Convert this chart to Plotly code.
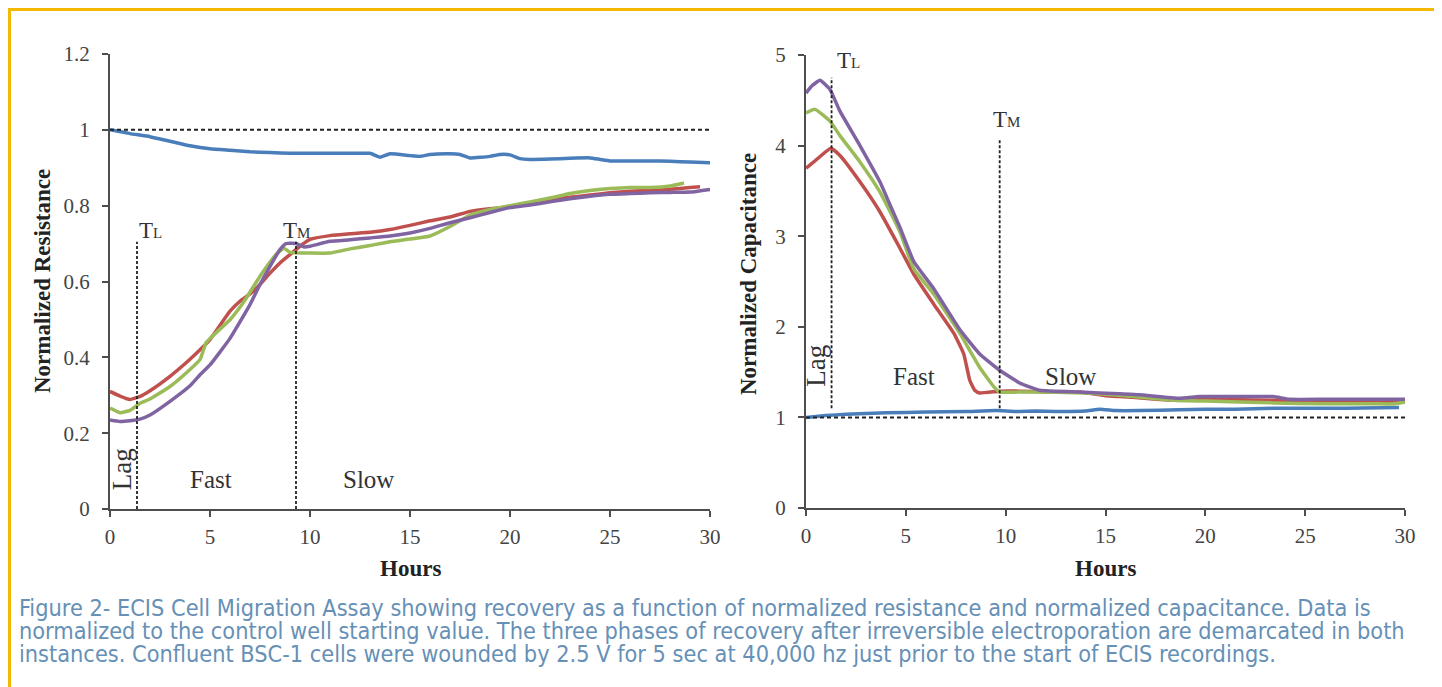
import plotly.graph_objects as go

W, H = 1442, 687
OFF = 8  # page body margin in the browser

# ---------------- Left chart: Normalized Resistance ----------------
res_blue_t = [0, 1, 2, 3, 4, 5, 6, 7, 8, 9, 10, 11, 12, 13, 13.5, 14, 15, 15.5, 16, 17, 17.5, 18, 19, 19.5, 20, 20.5, 21, 22, 23, 24, 24.5, 25, 26, 27, 28, 29, 30]
res_blue_v = [1.0, 0.99, 0.982, 0.97, 0.958, 0.95, 0.946, 0.942, 0.94, 0.938, 0.938, 0.938, 0.938, 0.938, 0.928, 0.937, 0.932, 0.93, 0.935, 0.937, 0.935, 0.926, 0.93, 0.935, 0.934, 0.924, 0.922, 0.923, 0.925, 0.926, 0.922, 0.918, 0.918, 0.918, 0.917, 0.915, 0.913]

res_red_t = [0, 0.5, 1, 1.5, 2, 3, 4, 4.5, 5, 6, 6.5, 7, 7.5, 8, 8.5, 9, 9.5, 10, 11, 12, 13, 14, 15, 16, 17, 18, 19, 20, 21, 22, 23, 24, 25, 26, 27, 28, 29, 29.5]
res_red_v = [0.31, 0.298, 0.289, 0.297, 0.312, 0.35, 0.395, 0.42, 0.447, 0.522, 0.548, 0.567, 0.592, 0.622, 0.649, 0.671, 0.693, 0.711, 0.721, 0.726, 0.73, 0.737, 0.748, 0.76, 0.77, 0.785, 0.792, 0.797, 0.805, 0.815, 0.822, 0.828, 0.834, 0.838, 0.84, 0.843, 0.848, 0.85]

res_green_t = [0, 0.5, 1, 1.5, 2, 3, 4, 4.5, 4.8, 5, 6, 6.7, 7.5, 8.3, 8.7, 9, 10, 11, 12, 13, 14, 15, 16, 17, 18, 19, 20, 21, 22, 23, 24, 25, 26, 27, 28, 28.7]
res_green_v = [0.266, 0.254, 0.26, 0.279, 0.29, 0.323, 0.368, 0.394, 0.438, 0.45, 0.499, 0.547, 0.614, 0.671, 0.688, 0.677, 0.675, 0.675, 0.686, 0.695, 0.705, 0.712, 0.72, 0.745, 0.775, 0.79, 0.80, 0.81, 0.82, 0.832, 0.84, 0.845, 0.848, 0.848, 0.852, 0.86]

res_purple_t = [0, 0.5, 1, 1.5, 2, 3, 4, 4.5, 5, 6, 7, 7.5, 8, 8.5, 8.8, 9.3, 9.7, 10, 11, 12, 13, 14, 15, 16, 17, 18, 19, 20, 21, 22, 23, 24, 25, 26, 27, 28, 29, 30]
res_purple_v = [0.235, 0.231, 0.233, 0.237, 0.248, 0.284, 0.325, 0.354, 0.38, 0.45, 0.539, 0.592, 0.64, 0.684, 0.70, 0.70, 0.691, 0.693, 0.706, 0.71, 0.715, 0.72, 0.728, 0.74, 0.755, 0.768, 0.782, 0.795, 0.802, 0.81, 0.818, 0.825, 0.83, 0.832, 0.834, 0.835, 0.836, 0.843]

res_TL, res_TM = 1.35, 9.3
res_marker_top = 0.705
res_yticks = [0, 0.2, 0.4, 0.6, 0.8, 1, 1.2]
res_ytick_text = ["0", "0.2", "0.4", "0.6", "0.8", "1", "1.2"]

# ---------------- Right chart: Normalized Capacitance ----------------
cap_blue_t = [0, 1, 2, 4, 6, 8, 9.5, 10.5, 11.5, 12.5, 14, 14.7, 15.5, 16.7, 18.7, 20, 21.5, 23.4, 25, 27, 29.7]
cap_blue_v = [1.0, 1.02, 1.035, 1.05, 1.06, 1.065, 1.075, 1.065, 1.07, 1.065, 1.07, 1.09, 1.075, 1.075, 1.085, 1.09, 1.09, 1.1, 1.1, 1.1, 1.11]

cap_red_t = [0, 0.6, 1.25, 1.7, 2.7, 3.7, 4.7, 5.4, 6.4, 7.4, 7.9, 8.2, 8.45, 8.7, 9.7, 10.7, 12, 13.7, 15, 15.7, 16.5, 18.4, 20, 23.4, 26, 28.4, 30]
cap_red_v = [3.75, 3.86, 3.97, 3.89, 3.6, 3.27, 2.87, 2.58, 2.25, 1.93, 1.70, 1.41, 1.30, 1.27, 1.29, 1.29, 1.28, 1.28, 1.24, 1.23, 1.22, 1.19, 1.2, 1.19, 1.18, 1.17, 1.17]

cap_green_t = [0, 0.45, 1.2, 1.7, 2.7, 3.7, 4.7, 5.4, 6.4, 7.7, 8.7, 9.4, 9.7, 10.7, 12, 14, 16, 18.4, 20, 23.4, 26, 28.4, 29.5, 30]
cap_green_v = [4.36, 4.40, 4.27, 4.11, 3.82, 3.49, 3.05, 2.64, 2.36, 1.93, 1.55, 1.34, 1.28, 1.28, 1.28, 1.27, 1.24, 1.19, 1.18, 1.16, 1.15, 1.15, 1.15, 1.17]

cap_purple_t = [0, 0.3, 0.7, 1.2, 1.7, 2.7, 3.7, 4.2, 4.7, 5.4, 6.4, 7.7, 8.7, 9.7, 10.7, 11.7, 13.7, 15.7, 16.7, 18.7, 19.7, 21, 23.4, 24.2, 26, 28, 30]
cap_purple_v = [4.58, 4.66, 4.72, 4.62, 4.38, 4.0, 3.6, 3.35, 3.1, 2.72, 2.42, 1.97, 1.70, 1.52, 1.38, 1.30, 1.28, 1.26, 1.25, 1.21, 1.23, 1.23, 1.23, 1.2, 1.2, 1.2, 1.2]

cap_TL, cap_TM = 1.28, 9.7
cap_TL_top, cap_TM_top, cap_marker_bottom = 4.75, 4.06, 1.1
cap_yticks = [0, 1, 2, 3, 4, 5]

xticks = [0, 5, 10, 15, 20, 25, 30]

caption_lines = [
    "Figure 2- ECIS Cell Migration Assay showing recovery as a function of normalized resistance and normalized capacitance. Data is",
    "normalized to the control well starting value. The three phases of recovery after irreversible electroporation are demarcated in both",
    "instances. Confluent BSC-1 cells were wounded by 2.5 V for 5 sec at 40,000 hz just prior to the start of ECIS recordings.",
]

BLUE, RED, GREEN, PURPLE = "#4a7ebb", "#c0504d", "#9bbb59", "#8064a2"
SERIF = "Liberation Serif, Times New Roman, serif"
AX = "#4d4d4d"


def px(x):
    return (x - OFF) / W


def py(y):
    return 1 - (y - OFF) / H


fig = go.Figure()

def add_line(t, v, color, xa, ya):
    fig.add_trace(go.Scatter(x=t, y=v, mode="lines", line=dict(color=color, width=3.5, shape="spline", smoothing=0.4),
                             xaxis=xa, yaxis=ya, showlegend=False, hoverinfo="skip"))

# left chart series
add_line(res_blue_t, res_blue_v, BLUE, "x", "y")
add_line(res_red_t, res_red_v, RED, "x", "y")
add_line(res_green_t, res_green_v, GREEN, "x", "y")
add_line(res_purple_t, res_purple_v, PURPLE, "x", "y")

# right chart series
add_line(cap_blue_t, cap_blue_v, BLUE, "x2", "y2")
add_line(cap_red_t, cap_red_v, RED, "x2", "y2")
add_line(cap_green_t, cap_green_v, GREEN, "x2", "y2")
add_line(cap_purple_t, cap_purple_v, PURPLE, "x2", "y2")

# reference lines
dash_h = dict(color="#222", width=2, dash="4px,3px")
dash_v = dict(color="#222", width=1.8, dash="3px,2px")
fig.add_trace(go.Scatter(x=[0, 30], y=[1, 1], mode="lines", line=dash_h, xaxis="x", yaxis="y", showlegend=False, hoverinfo="skip"))
fig.add_trace(go.Scatter(x=[0, 30], y=[1, 1], mode="lines", line=dash_h, xaxis="x2", yaxis="y2", showlegend=False, hoverinfo="skip"))
for xv in (res_TL, res_TM):
    fig.add_trace(go.Scatter(x=[xv, xv], y=[0, res_marker_top], mode="lines", line=dash_v, xaxis="x", yaxis="y", showlegend=False, hoverinfo="skip"))
fig.add_trace(go.Scatter(x=[cap_TL, cap_TL], y=[cap_marker_bottom, cap_TL_top], mode="lines", line=dash_v, xaxis="x2", yaxis="y2", showlegend=False, hoverinfo="skip"))
fig.add_trace(go.Scatter(x=[cap_TM, cap_TM], y=[cap_marker_bottom, cap_TM_top], mode="lines", line=dash_v, xaxis="x2", yaxis="y2", showlegend=False, hoverinfo="skip"))

axis_common = dict(showline=True, linecolor=AX, linewidth=2, ticks="outside", ticklen=6, tickwidth=2,
                   tickcolor=AX, showgrid=False, zeroline=False, automargin=False,
                   tickfont=dict(family=SERIF, size=21, color="#444"))

fig.update_layout(
    width=W, height=H, autosize=False,
    margin=dict(l=0, r=0, t=0, b=0, pad=0),
    paper_bgcolor="white", plot_bgcolor="white",
    xaxis=dict(domain=[px(110), px(710)], range=[0, 30], tickvals=xticks, anchor="y", ticklabelstandoff=2, **axis_common),
    yaxis=dict(domain=[py(509), py(54)], range=[0, 1.2], tickvals=res_yticks, ticktext=res_ytick_text, anchor="x", ticklabelstandoff=8, **axis_common),
    xaxis2=dict(domain=[px(806), px(1405)], range=[0, 30], tickvals=xticks, anchor="y2", ticklabelstandoff=2, **axis_common),
    yaxis2=dict(domain=[py(508), py(55)], range=[0, 5], tickvals=cap_yticks, anchor="x2", ticklabelstandoff=8, **axis_common),
)

ann = []
txt_font = dict(family=SERIF, size=25, color="#333")
t_font = dict(family=SERIF, size=23, color="#333")
lag_font = dict(family=SERIF, size=27, color="#333")
def T(sub):
    return "T<span style='font-size:15px'>" + sub + "</span>"

def note(x, y, xr, yr, text, font, xa="center", ya="middle", angle=0):
    ann.append(dict(x=x, y=y, xref=xr, yref=yr, text=text, showarrow=False, xanchor=xa, yanchor=ya,
                    textangle=angle, font=font))

# left chart annotations
note(res_TL, 0.735, "x", "y", T("L"), t_font, xa="left")
note(res_TM, 0.735, "x", "y", T("M"), t_font)
note(0.6, 0.105, "x", "y", "Lag", lag_font, angle=-90)
note(5.05, 0.077, "x", "y", "Fast", txt_font)
note(12.9, 0.077, "x", "y", "Slow", txt_font)

# right chart annotations
note(1.45, 4.94, "x2", "y2", T("L"), t_font, xa="left")
note(10.05, 4.29, "x2", "y2", T("M"), t_font)
note(0.5, 1.57, "x2", "y2", "Lag", lag_font, angle=-90)
note(5.4, 1.45, "x2", "y2", "Fast", txt_font)
note(13.25, 1.45, "x2", "y2", "Slow", txt_font)

# axis titles
title_font = dict(family=SERIF, size=23, color="#222")
note(px(43), py(281), "paper", "paper", "<b>Normalized Resistance</b>", title_font, angle=-90)
note(px(748), py(274), "paper", "paper", "<b>Normalized Capacitance</b>", title_font, angle=-90)
note(px(410), py(568), "paper", "paper", "<b>Hours</b>", title_font)
note(px(1105), py(568), "paper", "paper", "<b>Hours</b>", title_font)

# caption
cap_font = dict(family="DejaVu Sans Condensed, DejaVu Sans, sans-serif", size=23.3, color="#6690b6")
for i, line in enumerate(caption_lines):
    note(px(17), py(607 + 23 * i), "paper", "paper", line, cap_font, xa="left")

fig.update_layout(annotations=ann)

# yellow frame
fig.add_shape(type="rect", xref="paper", yref="paper", x0=px(9.5), x1=px(1437), y0=-0.05, y1=py(9.5),
              line=dict(color="#f5b800", width=3), fillcolor="rgba(0,0,0,0)", layer="above")

fig.write_html("out.html")
